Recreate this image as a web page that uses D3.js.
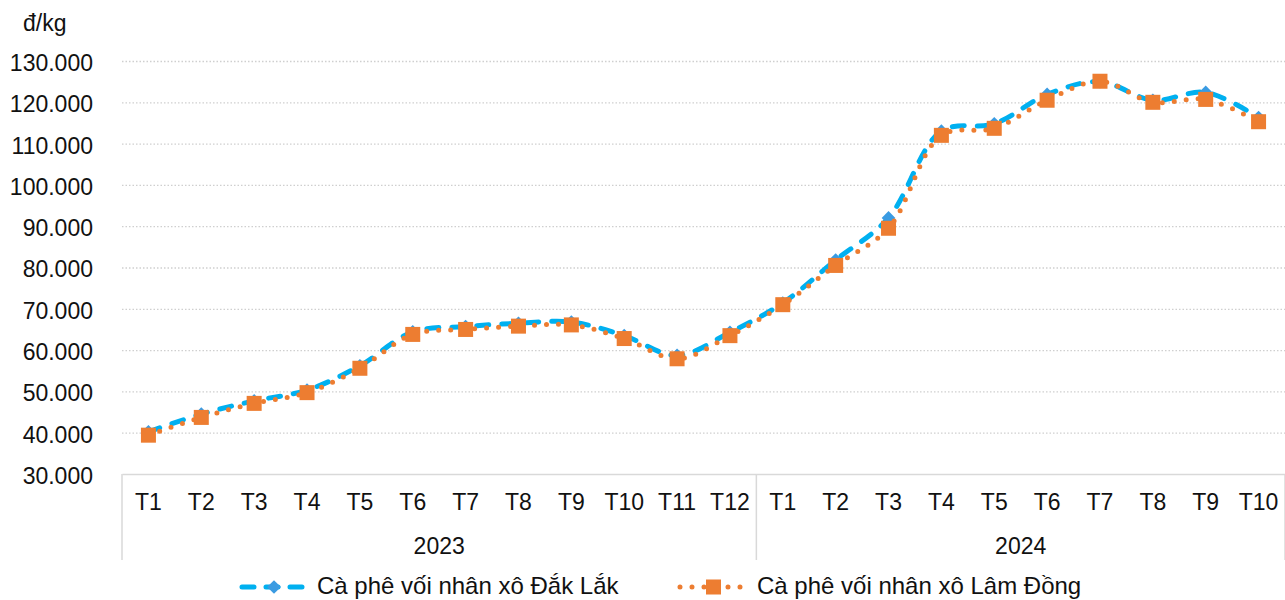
<!DOCTYPE html>
<html>
<head>
<meta charset="utf-8">
<script src="https://cdn.jsdelivr.net/npm/d3@7"></script>
<style>
  body { margin: 0; background: #fff; }
  text { font-family: "Liberation Sans", Arial, sans-serif; }
</style>
</head>
<body>
<svg id="chart"></svg>
<script>
// months per year, and the two price series (đ/kg, in thousands)
const years = ['2023', '2024'];
const months2023 = ['T1', 'T2', 'T3', 'T4', 'T5', 'T6', 'T7', 'T8', 'T9', 'T10', 'T11', 'T12'];
const months2024 = ['T1', 'T2', 'T3', 'T4', 'T5', 'T6', 'T7', 'T8', 'T9', 'T10'];
const dakLak = [40.2, 44.5, 47.7, 50.3, 56.2, 64.4, 65.7, 66.5, 66.8, 63.5, 58.7, 64.3,
                71.4, 81.8, 92.0, 113.0, 114.8, 121.9, 125.0, 120.5, 122.4, 116.3];
const lamDong = [39.4, 43.7, 47.1, 49.7, 55.6, 63.8, 65.0, 65.8, 66.1, 62.8, 57.9, 63.5,
                 71.0, 80.5, 89.5, 112.0, 113.7, 120.5, 125.1, 120.0, 120.7, 115.3];
const yTicks = [30, 40, 50, 60, 70, 80, 90, 100, 110, 120, 130];
const seriesNames = ['Cà phê vối nhân xô Đắk Lắk', 'Cà phê vối nhân xô Lâm Đồng'];

const W = 1285, H = 600;
const margin = {top: 61, left: 122, right: 0, bottom: 126};
const plotW = W - margin.left - margin.right;
const plotH = H - margin.top - margin.bottom;
const fontSize = 23;
const blue = '#00b0f0';
const orange = '#ed7d31';

const cats = [];
months2023.forEach(m => cats.push({key: '2023-' + m, month: m, year: '2023'}));
months2024.forEach(m => cats.push({key: '2024-' + m, month: m, year: '2024'}));

const svg = d3.select('#chart')
.attr('width', W)
.attr('height', H);

const g = svg.append('g')
.attr('transform', `translate(${margin.left}, ${margin.top})`);

const x = d3.scaleBand()
.domain(cats.map(d => d.key))
.range([0, plotW]);

const y = d3.scaleLinear()
.domain([30, 130])
.range([plotH, 0]);

const fmt = d3.formatLocale({decimal: ',', thousands: '.', grouping: [3], currency: ['', '']}).format(',.0f');

// y axis + dotted gridlines
const yAxis = g.append('g')
.call(d3.axisLeft(y).tickValues(yTicks).tickSize(-plotW).tickPadding(29).tickFormat(d => fmt(d * 1000)));
yAxis.select('.domain').remove();
yAxis.selectAll('line')
.attr('stroke', '#cfcfcf')
.attr('stroke-width', 1.3)
.attr('stroke-dasharray', '1.5,2')
.filter(d => d === 30).remove();
yAxis.selectAll('text')
.attr('dy', '0.41em')
.style('font-size', fontSize + 'px')
.attr('fill', '#111');

// x axis (months)
const xAxis = g.append('g')
.attr('transform', `translate(0, ${plotH})`)
.call(d3.axisBottom(x).tickSize(0).tickPadding(20).tickFormat(k => cats.find(c => c.key === k).month));
xAxis.select('.domain')
.attr('stroke', '#d9d9d9')
.attr('stroke-width', 1.5);
xAxis.selectAll('text')
.style('font-size', fontSize + 'px')
.attr('fill', '#111');

// year groups: separators and labels
const groups = years.map(yr => {
  const keys = cats.filter(c => c.year === yr).map(c => c.key);
  return {year: yr, x0: x(keys[0]), x1: x(keys[keys.length - 1]) + x.bandwidth()};
});
const sepX = [groups[0].x0, groups[0].x1, groups[1].x1];
g.selectAll('.sep')
.data(sepX)
.enter()
.append('line')
.attr('x1', d => d).attr('x2', d => d)
.attr('y1', plotH).attr('y2', plotH + 86)
.attr('stroke', '#d9d9d9')
.attr('stroke-width', 1.5);

g.selectAll('.year')
.data(groups)
.enter()
.append('text')
.attr('x', d => (d.x0 + d.x1) / 2)
.attr('y', plotH + 79.5)
.attr('text-anchor', 'middle')
.style('font-size', fontSize + 'px')
.attr('fill', '#111')
.text(d => d.year);

// unit label
svg.append('text')
.attr('x', 23)
.attr('y', 31)
.style('font-size', fontSize + 'px')
.attr('fill', '#111')
.text('đ/kg');

const cx = i => x(cats[i].key) + x.bandwidth() / 2;
const line = d3.line()
.x((d, i) => cx(i))
.y(d => y(d))
.curve(d3.curveCatmullRom.alpha(0.5));

const diamond = d3.symbol().type(d3.symbolDiamond2).size(120);

// series 1: Dak Lak
g.append('path')
.datum(dakLak)
.attr('d', line)
.attr('fill', 'none')
.attr('stroke', blue)
.attr('stroke-width', 5)
.attr('stroke-linecap', 'round')
.attr('stroke-dasharray', '12,13');

g.selectAll('.dl')
.data(dakLak)
.enter()
.append('path')
.attr('transform', (d, i) => `translate(${cx(i)}, ${y(d)})`)
.attr('d', diamond)
.attr('fill', '#3a9be2');

// series 2: Lam Dong
g.append('path')
.datum(lamDong)
.attr('d', line)
.attr('fill', 'none')
.attr('stroke', orange)
.attr('stroke-width', 5)
.attr('stroke-linecap', 'round')
.attr('stroke-dasharray', '0,12');

g.selectAll('.ld')
.data(lamDong)
.enter()
.append('rect')
.attr('x', (d, i) => cx(i) - 7.5)
.attr('y', d => y(d) - 7.5)
.attr('width', 15)
.attr('height', 15)
.attr('fill', orange);

// legend
const legend = svg.append('g');
const ly = 587;
const ty = 594;

legend.append('line')
.attr('x1', 242).attr('x2', 305).attr('y1', ly).attr('y2', ly)
.attr('stroke', blue).attr('stroke-width', 5)
.attr('stroke-linecap', 'round').attr('stroke-dasharray', '12,12');
legend.append('path')
.attr('transform', `translate(274, ${ly})`)
.attr('d', diamond)
.attr('fill', '#3a9be2');
legend.append('text')
.attr('x', 317).attr('y', ty)
.style('font-size', '24px')
.attr('fill', '#111')
.text(seriesNames[0]);

legend.append('line')
.attr('x1', 680).attr('x2', 746).attr('y1', ly).attr('y2', ly)
.attr('stroke', orange).attr('stroke-width', 5)
.attr('stroke-linecap', 'round').attr('stroke-dasharray', '0,12');
legend.append('rect')
.attr('x', 706).attr('y', ly - 7.5)
.attr('width', 15).attr('height', 15)
.attr('fill', orange);
legend.append('text')
.attr('x', 757).attr('y', ty)
.style('font-size', '24px')
.attr('fill', '#111')
.text(seriesNames[1]);
</script>
</body>
</html>
